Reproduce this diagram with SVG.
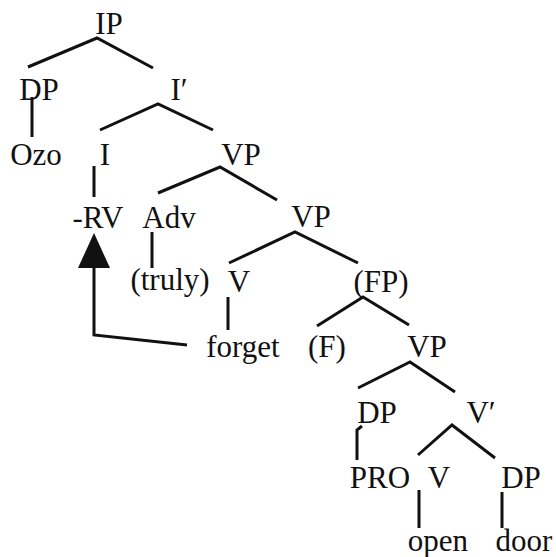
<svg xmlns="http://www.w3.org/2000/svg" width="556" height="557" viewBox="0 0 556 557">
<style>
.t{font-family:"Liberation Serif",Tinos,"Times New Roman","DejaVu Serif",serif;font-size:31px;fill:#111;text-anchor:middle}
.e{stroke:#111;stroke-width:3;fill:none;stroke-linecap:butt}
</style>
<rect width="556" height="557" fill="#fff"/>
<g id="connectors">
<path class="e" d="M28 67 L97 38 L153 68"/>
<path class="e" d="M32 97 L32 137"/>
<path class="e" d="M100 130 L158 104 L213 130"/>
<path class="e" d="M94 166 L94 197"/>
<path class="e" d="M158 193 L220 167 L277 200"/>
<path class="e" d="M152 232 L152 268"/>
<path class="e" d="M229 263 L295 232 L358 263"/>
<path class="e" d="M228 297 L228 330"/>
<path class="e" d="M317 326 L363 297 L409 325"/>
<path class="e" d="M358 388 L410 362 L455 392"/>
<path class="e" d="M362 426 L357 430 L357 460"/>
<path class="e" d="M418 455 L452 425 L495 458"/>
<path class="e" d="M419 490 L419 528"/>
<path class="e" d="M502 492 L502 528"/>
<path class="e" d="M187 345 L94 335 L94 268"/>
<path d="M94 233 L110 268 L78 268 Z" fill="#111"/>
</g>
<g class="t" font-family="Liberation Serif, Tinos, DejaVu Serif, serif">
<g id="n-IP"><text x="109" y="34">IP</text></g>
<g id="n-DP1"><text x="39" y="100">DP</text></g>
<g id="n-Ibar"><text x="179" y="100">I′</text></g>
<g id="n-Ozo"><text x="36" y="165">Ozo</text></g>
<g id="n-I"><text x="105" y="165">I</text></g>
<g id="n-VP1"><text x="241" y="165">VP</text></g>
<g id="n-RV"><text x="98" y="228">-RV</text></g>
<g id="n-Adv"><text x="169" y="228">Adv</text></g>
<g id="n-VP2"><text x="311" y="227">VP</text></g>
<g id="n-truly"><text x="170" y="290">(truly)</text></g>
<g id="n-V1"><text x="239" y="292">V</text></g>
<g id="n-FP"><text x="381" y="292">(FP)</text></g>
<g id="n-forget"><text x="243" y="357">forget</text></g>
<g id="n-F"><text x="327" y="357">(F)</text></g>
<g id="n-VP3"><text x="427" y="357">VP</text></g>
<g id="n-DP2"><text x="377" y="423">DP</text></g>
<g id="n-Vbar"><text x="481" y="423">V′</text></g>
<g id="n-PRO"><text x="380" y="488">PRO</text></g>
<g id="n-V2"><text x="439" y="488">V</text></g>
<g id="n-DP3"><text x="521" y="488">DP</text></g>
<g id="n-open"><text x="438" y="551">open</text></g>
<g id="n-door"><text x="524" y="551">door</text></g>
</g>
</svg>
